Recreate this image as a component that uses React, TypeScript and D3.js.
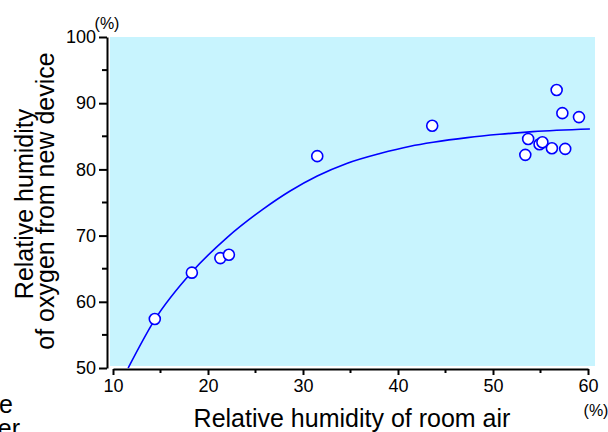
import React, { useEffect, useRef } from 'react';
import * as d3 from 'd3';

// measured points
const roomRH = [14.4, 18.3, 21.3, 22.2, 31.5, 43.6, 53.4, 53.7, 54.9, 55.2, 56.2, 56.7, 57.3, 57.6, 59.05];
const deviceRH = [57.4, 64.4, 66.6, 67.1, 82.0, 86.6, 82.2, 84.6, 83.8, 84.1, 83.2, 92.0, 88.5, 83.1, 87.9];

// fitted curve
const fitX = [11.6, 14.4, 18.3, 22.0, 25.8, 28.6, 31.5, 34.6, 38.1, 41.3, 43.7, 47.3, 50.7, 54.2, 60.2];
const fitY = [50.0, 57.3, 64.5, 69.7, 74.0, 76.7, 79.0, 80.9, 82.4, 83.5, 84.1, 84.8, 85.3, 85.7, 86.1];

const xMajor = [10, 20, 30, 40, 50, 60];
const xMinor = [15, 25, 35, 45, 55];
const yMajor = [50, 60, 70, 80, 90, 100];
const yMinor = [55, 65, 75, 85, 95];

const FONT = '"Liberation Sans", Arial, sans-serif';

const App = () => {
  const svgRef = useRef<SVGSVGElement>(null);
  const width = 608;
  const height = 432;

  useEffect(() => {
    const svg = d3.select(svgRef.current);
    svg.selectAll('*').remove();

    const x = d3.scaleLinear().domain([10, 60]).range([113, 588]);
    const y = d3.scaleLinear().domain([50, 100]).range([368, 37]);

    // plot background
    svg.append('rect')
      .attr('x', x(10) - 3)
      .attr('y', y(100))
      .attr('width', x(60) - x(10) + 10)
      .attr('height', y(50) - y(100) - 2)
      .attr('fill', '#c8f4fe');

    // y axis
    const yAxis = svg.append('g')
      .attr('transform', `translate(${x(10) - 6},0)`);
    yAxis.call(d3.axisLeft(y).tickValues(yMajor).tickSize(8).tickSizeOuter(0).tickPadding(3));
    yAxis.selectAll('line.minor')
      .data(yMinor)
      .enter().append('line')
      .attr('class', 'minor')
      .attr('x1', -5).attr('x2', 0)
      .attr('y1', d => y(d)).attr('y2', d => y(d))
      .attr('stroke', 'black').attr('stroke-width', 2);

    // x axis
    const xAxis = svg.append('g')
      .attr('transform', `translate(0,${y(50) + 1})`);
    xAxis.call(d3.axisBottom(x).tickValues(xMajor).tickSize(6).tickSizeOuter(0).tickPadding(4));
    xAxis.selectAll('line.minor')
      .data(xMinor)
      .enter().append('line')
      .attr('class', 'minor')
      .attr('x1', d => x(d)).attr('x2', d => x(d))
      .attr('y1', 0).attr('y2', 4)
      .attr('stroke', 'black').attr('stroke-width', 2);

    [yAxis, xAxis].forEach(ax => {
      ax.select('.domain').attr('stroke', 'black').attr('stroke-width', 2);
      ax.selectAll('.tick line').attr('stroke', 'black').attr('stroke-width', 2);
      ax.selectAll('.tick text')
        .attr('fill', 'black')
        .style('font-family', FONT)
        .style('font-size', '18px');
    });

    // fit curve
    const line = d3.line<number>()
      .x((d, i) => x(fitX[i]))
      .y(d => y(d))
      .curve(d3.curveMonotoneX);

    svg.append('path')
      .datum(fitY)
      .attr('fill', 'none')
      .attr('stroke', '#0000ff')
      .attr('stroke-width', 1.6)
      .attr('d', line);

    // points
    svg.selectAll('.dot')
      .data(roomRH)
      .enter().append('circle')
      .attr('class', 'dot')
      .attr('cx', d => x(d))
      .attr('cy', (d, i) => y(deviceRH[i]))
      .attr('r', 5.5)
      .attr('fill', 'white')
      .attr('stroke', '#0000ff')
      .attr('stroke-width', 1.6);

    // unit labels
    svg.append('text')
      .attr('x', 107).attr('y', 29)
      .attr('text-anchor', 'middle')
      .style('font-family', FONT).style('font-size', '16px')
      .text('(%)');

    svg.append('text')
      .attr('x', 596).attr('y', 416)
      .attr('text-anchor', 'middle')
      .style('font-family', FONT).style('font-size', '16px')
      .text('(%)');

    // axis titles
    svg.append('text')
      .attr('x', 352).attr('y', 427)
      .attr('text-anchor', 'middle')
      .style('font-family', FONT).style('font-size', '25px')
      .text('Relative humidity of room air');

    const yTitle = svg.append('text')
      .attr('transform', 'rotate(-90)')
      .attr('text-anchor', 'middle')
      .style('font-family', FONT).style('font-size', '25px');
    yTitle.append('tspan').attr('x', -204).attr('y', 33).text('Relative humidity');
    yTitle.append('tspan').attr('x', -201).attr('y', 54).text('of oxygen from new device');

    // text from the neighbouring panel, cut off at the left edge
    svg.append('text')
      .attr('x', 13).attr('y', 413)
      .attr('text-anchor', 'end')
      .style('font-family', FONT).style('font-size', '25px')
      .text('Temperature');
    svg.append('text')
      .attr('x', 20).attr('y', 437)
      .attr('text-anchor', 'end')
      .style('font-family', FONT).style('font-size', '25px')
      .text('of water');
  }, []);

  return (
    <svg
      ref={svgRef}
      width={width}
      height={height}
      style={{ position: 'absolute', left: 0, top: 0, background: 'white' }}
    />
  );
};

export default App;
